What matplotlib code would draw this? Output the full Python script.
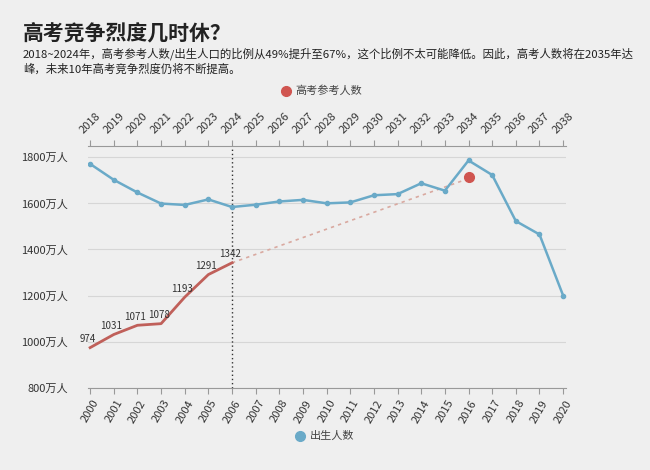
import matplotlib
matplotlib.use("Agg")
import matplotlib.pyplot as plt

plt.rcParams["font.family"] = ["Noto Sans CJK SC", "DejaVu Sans"]

birth_years = list(range(2000, 2021))
births = [1771, 1702, 1647, 1599, 1593, 1617, 1584, 1594, 1608, 1615, 1600, 1604, 1635, 1640, 1687, 1655, 1786, 1723, 1523, 1465, 1200]
exam_top_years = list(range(2018, 2025))
exam = [974, 1031, 1071, 1078, 1193, 1291, 1342]
pred_year = 2034
pred_value = 1715
top_labels = [str(y) for y in range(2018, 2039)]
yticks = [800, 1000, 1200, 1400, 1600, 1800]

bg = "#efefef"
fig = plt.figure(figsize=(6.5, 4.7), dpi=100, facecolor=bg)
ax = fig.add_axes([0.135, 0.175, 0.735, 0.515], facecolor=bg)

off = 2018 - 2000
ex_x = [y - off for y in exam_top_years]
ax.plot(birth_years, births, color="#6aaac8", lw=1.8, marker="o", ms=3, zorder=3)
ax.plot(ex_x, exam, color="#c0605a", lw=2, zorder=3)
ax.plot([ex_x[-1], pred_year - off - 0.2], [exam[-1], pred_value - 15], color="#d9a9a0", lw=1.2, ls=(0, (2, 2.5)), zorder=2)
ax.plot([pred_year - off], [pred_value], "o", color="#d05550", ms=7, zorder=4)
for x, v in zip(ex_x, exam):
    ax.text(x - 0.1, v + 15, str(v), fontsize=7, color="#333", ha="center", va="bottom")
ax.axvline(2006, color="#333", ls=(0, (1, 2)), lw=1)

ax.set_xlim(1999.9, 2020.1)
ax.set_ylim(800, 1850)
ax.set_yticks(yticks)
ax.set_yticklabels([f"{v}万人" for v in yticks], fontsize=8, color="#333")
ax.set_xticks(birth_years)
ax.set_xticklabels([str(y) for y in birth_years], rotation=60, fontsize=8, color="#333")
ax.grid(axis="y", color="#d6d6d6", lw=0.8)
for s in ["left", "right", "top"]:
    ax.spines[s].set_visible(False)
ax.spines["bottom"].set_color("#999")
ax.tick_params(axis="y", length=0, pad=14)
ax.tick_params(axis="x", color="#999", length=4)

top = ax.twiny()
top.set_xlim(ax.get_xlim())
top.set_xticks(birth_years)
top.set_xticklabels(top_labels, rotation=45, fontsize=8, color="#333")
for s in ["left", "right", "bottom"]:
    top.spines[s].set_visible(False)
top.spines["top"].set_color("#999")
top.tick_params(axis="x", color="#999", length=4)

fig.text(0.035, 0.93, "高考竞争烈度几时休？", fontsize=15, fontweight="bold", color="#222", va="center")
fig.text(0.035, 0.9, "2018~2024年，高考参考人数/出生人口的比例从49%提升至67%，这个比例不太可能降低。因此，高考人数将在2035年达\n峰，未来10年高考竞争烈度仍将不断提高。", fontsize=8.2, color="#222", va="top", linespacing=1.45)
fig.lines.append(plt.Line2D([0.44], [0.807], marker="o", color="#d05550", ms=7, transform=fig.transFigure))
fig.text(0.455, 0.807, "高考参考人数", fontsize=8, color="#444", va="center")
fig.lines.append(plt.Line2D([0.462], [0.072], marker="o", color="#6aaac8", ms=7, transform=fig.transFigure))
fig.text(0.477, 0.072, "出生人数", fontsize=8, color="#444", va="center")

fig.savefig("out.png", dpi=100, facecolor=bg)
